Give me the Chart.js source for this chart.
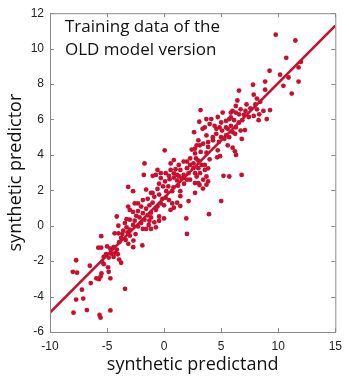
<!DOCTYPE html>
<html>
<head>
<meta charset="utf-8">
<script src="https://cdn.jsdelivr.net/npm/chart.js@4.4.1/dist/chart.umd.min.js"></script>
<style>
  html, body { margin: 0; padding: 0; background: #fff; }
  canvas { display: block; }
</style>
</head>
<body>
<canvas id="scatter" width="349" height="377"></canvas>
<script>
// synthetic predictand (x) / synthetic predictor (y)
const predictand = [
  -5.51,-4.34,-4.0,-3.66,-3.2,-3.0,-2.51,-3.77,-3.37,-3.94,-3.14,-2.69,-1.91,-2.71,-5.77,-5.51,-5.0,-4.71,-4.43,-4.14,
  -4.29,-4.63,-5.09,-5.29,-5.43,-4.86,-4.43,-3.94,-3.77,-4.06,-7.71,-8.0,-7.63,-6.51,-5.29,-4.91,-4.86,-5.49,-5.57,-5.94,
  -5.71,-4.71,-6.43,-7.2,-3.43,-7.71,-7.09,-7.94,-6.77,-5.66,-5.57,-4.71,
  -0.29,0.08,0.48,0.85,1.14,1.51,2.0,1.74,1.22,0.82,0.36,-0.09,-0.44,-0.58,0.19,0.71,1.42,2.14,1.94,2.0,
  -3.15,-2.72,-1.58,-1.15,-1.44,-1.86,-0.86,-0.44,-0.15,-0.29,0.42,-0.01,-0.58,-1.01,-1.29,-0.72,-1.15,-1.58,-2.01,-2.29,
  -2.58,-3.15,-3.01,-2.72,-2.29,-1.86,-1.44,-1.15,-1.29,-1.72,-2.15,-2.44,-2.58,-2.01,-2.29,-1.86,-1.58,-2.72,-3.01,-3.29,
  -3.44,-3.29,-3.01,-3.58,-4.15,-4.01,0.85,0.56,1.42,1.14,0.71,-0.44,-0.01,-0.44,-0.86,-0.72,-1.15,-1.35,
  2.62,3.37,4.57,5.08,5.57,6.0,5.42,4.99,4.57,3.71,3.0,2.85,3.42,3.85,4.28,4.8,5.28,5.57,6.0,4.65,
  3.99,3.71,3.2,2.71,2.42,0.05,2.0,2.28,2.57,3.0,3.28,3.57,3.0,2.57,2.71,3.14,3.71,3.42,3.0,3.85,
  3.71,2.71,5.2,5.71,5.0,3.93,-1.78,-1.72,0.57,0.85,1.28,1.71,1.42,1.0,0.57,0.14,-0.58,-0.29,-0.72,-1.0,
  2.0,2.14,1.14,1.71,0.42,3.4,3.1,
  7.79,8.85,8.85,10.45,6.56,7.85,8.13,8.42,7.99,7.22,6.42,6.7,7.13,7.56,8.13,8.7,9.28,8.33,7.85,7.42,
  6.99,6.56,5.99,5.7,6.13,6.56,6.85,7.08,6.7,6.28,5.85,5.42,5.42,8.99,8.28,3.19,3.08,3.7,4.13,4.7,
  4.85,5.0,4.42,3.99,3.56,5.85,5.13,6.28,6.3,6.2,6.8,
  9.78,11.5,10.7,11.98,11.78,10.9,10.16,9.24,11.78,11.18,
  3.13,2.7,2.79,3.56,3.85,2.27,0.85,1.27,1.7,2.27,2.85,2.7,-1.01,0.13,1.42,
  6.27,5.85,6.22,5.7,4.27,3.85,4.7,4.9,6.79
];
const predictor = [
  -0.59,-0.43,-0.43,-0.47,-0.37,-0.56,-0.47,-0.69,-0.8,-0.93,-1.02,-0.84,-1.11,-1.21,-1.24,-1.24,-1.17,-1.3,-1.21,-1.35,
  -1.54,-1.58,-1.61,-1.76,-2.04,-1.8,-1.76,-1.91,-2.09,-1.61,-1.95,-2.6,-2.65,-2.26,-2.17,-2.35,-2.6,-2.69,-2.87,-2.97,
  -3.02,-2.97,-3.24,-3.61,-3.56,-4.17,-4.11,-4.91,-4.76,-5.04,-5.19,-4.78,
  2.69,2.5,2.63,2.72,2.56,2.69,2.6,2.37,2.26,2.17,2.22,2.22,2.37,2.08,1.95,1.95,1.95,1.39,0.41,-0.46,
  2.19,1.95,2.04,1.85,1.52,1.45,1.63,1.76,1.52,1.26,1.45,1.15,1.08,1.3,1.15,0.89,0.74,0.96,1.08,1.26,
  1.26,1.08,0.89,0.78,0.83,0.71,0.59,0.47,0.28,0.34,0.47,0.56,0.28,0.15,-0.04,-0.18,-0.18,0.04,0.34,0.37,
  0.15,-0.09,-0.22,-0.28,0.52,0.0,1.02,0.89,1.11,1.3,1.26,0.52,0.41,0.28,0.19,-0.09,-0.18,0.04,
  5.28,5.47,5.47,5.37,5.47,5.28,5.1,5.0,5.19,5.1,4.82,4.54,4.63,4.45,4.82,4.73,4.91,4.54,4.41,3.86,
  3.75,4.12,4.17,4.08,4.3,4.26,3.62,3.8,3.52,3.67,3.43,3.15,3.25,3.25,2.97,2.97,2.78,2.6,2.41,2.5,
  2.32,1.86,2.82,2.78,1.39,0.65,2.87,3.52,3.52,3.71,3.43,3.62,3.15,3.19,3.15,2.97,3.15,2.97,2.87,2.82,
  3.25,2.97,2.87,2.87,2.82,2.1,2.3,
  7.96,8.14,7.68,7.9,7.63,7.4,7.18,7.0,6.85,6.85,7.07,6.57,6.48,6.63,6.57,6.48,6.53,6.29,6.2,6.14,
  6.26,6.29,6.48,6.02,5.96,5.83,5.96,5.4,5.37,5.55,5.64,5.92,5.55,6.02,5.96,6.53,5.87,6.02,6.02,6.14,
  5.55,5.83,5.64,5.74,5.55,6.39,6.39,6.76,4.0,4.2,4.9,
  10.79,10.46,9.48,9.25,8.94,8.37,8.53,8.75,8.14,7.46,
  4.54,4.35,3.8,3.43,3.24,3.43,2.96,2.82,2.69,2.6,2.78,2.41,1.85,1.58,1.67,
  6.39,6.11,5.19,5.0,5.0,4.72,4.26,3.93,2.87
];

// least-squares line as drawn in the figure (end points)
const fitX = [-10, 15];
const fitY = [-4.9, 11.3];

const xTicks = [-10, -5, 0, 5, 10, 15];
const yTicks = [-6, -4, -2, 0, 2, 4, 6, 8, 10, 12];

const RED = "#c8102e";
const FRAME = "#8a8a8a";

// box around the plot with inward ticks on all four sides
const framePlugin = {
  id: "frame",
  afterDatasetsDraw(chart) {
    const { ctx, chartArea: a, scales: { x, y } } = chart;
    ctx.save();
    ctx.strokeStyle = FRAME;
    ctx.lineWidth = 1;
    ctx.beginPath();
    ctx.rect(a.left + 0.5, a.top + 0.5, a.right - a.left, a.bottom - a.top);
    xTicks.forEach(v => {
      const px = Math.round(x.getPixelForValue(v)) + 0.5;
      ctx.moveTo(px, a.bottom); ctx.lineTo(px, a.bottom - 4);
      ctx.moveTo(px, a.top); ctx.lineTo(px, a.top + 4);
    });
    yTicks.forEach(v => {
      const py = Math.round(y.getPixelForValue(v)) + 0.5;
      ctx.moveTo(a.left, py); ctx.lineTo(a.left + 4, py);
      ctx.moveTo(a.right, py); ctx.lineTo(a.right - 4, py);
    });
    ctx.stroke();
    ctx.restore();
  }
};

// axis titles and the note in the corner
const textPlugin = {
  id: "texts",
  afterDraw(chart) {
    const { ctx, chartArea: a } = chart;
    ctx.save();
    ctx.fillStyle = "#111";
    ctx.textBaseline = "alphabetic";

    ctx.font = '18px "Open Sans"';
    ctx.textAlign = "center";
    ctx.fillText("synthetic predictand", (a.left + a.right) / 2, 370);

    ctx.save();
    ctx.translate(21, (a.top + a.bottom) / 2);
    ctx.rotate(-Math.PI / 2);
    ctx.fillText("synthetic predictor", 0, 0);
    ctx.restore();

    ctx.font = '17px "Open Sans"';
    ctx.textAlign = "left";
    ctx.fillText("Training data of the", 65, 32);
    ctx.fillText("OLD model version", 65, 55);
    ctx.restore();
  }
};

const tickFont = { family: "Liberation Sans", size: 12 };

new Chart(document.getElementById("scatter"), {
  type: "scatter",
  data: {
    datasets: [
      {
        data: fitX.map((v, i) => ({ x: v, y: fitY[i] })),
        showLine: true,
        borderColor: RED,
        borderWidth: 2.6,
        pointRadius: 0,
        order: 0
      },
      {
        data: predictand.map((v, i) => ({ x: v, y: predictor[i] })),
        backgroundColor: RED,
        borderWidth: 0,
        pointRadius: 2.4,
        order: 1
      }
    ]
  },
  options: {
    responsive: false,
    animation: false,
    devicePixelRatio: 1,
    layout: { padding: { left: 0, right: 7, top: 9, bottom: 0 } },
    plugins: { legend: { display: false }, tooltip: { enabled: false } },
    scales: {
      x: {
        type: "linear", min: -10, max: 15,
        afterBuildTicks: s => { s.ticks = xTicks.map(v => ({ value: v })); },
        afterFit: s => { s.height = 45; },
        grid: { display: false, drawTicks: false },
        border: { display: false },
        ticks: { font: tickFont, color: "#222", padding: 7, maxRotation: 0 }
      },
      y: {
        type: "linear", min: -6, max: 12,
        afterBuildTicks: s => { s.ticks = yTicks.map(v => ({ value: v })); },
        afterFit: s => { s.width = 50; },
        grid: { display: false, drawTicks: false },
        border: { display: false },
        ticks: { font: tickFont, color: "#222", padding: 6 }
      }
    }
  },
  plugins: [framePlugin, textPlugin]
});
</script>
</body>
</html>
